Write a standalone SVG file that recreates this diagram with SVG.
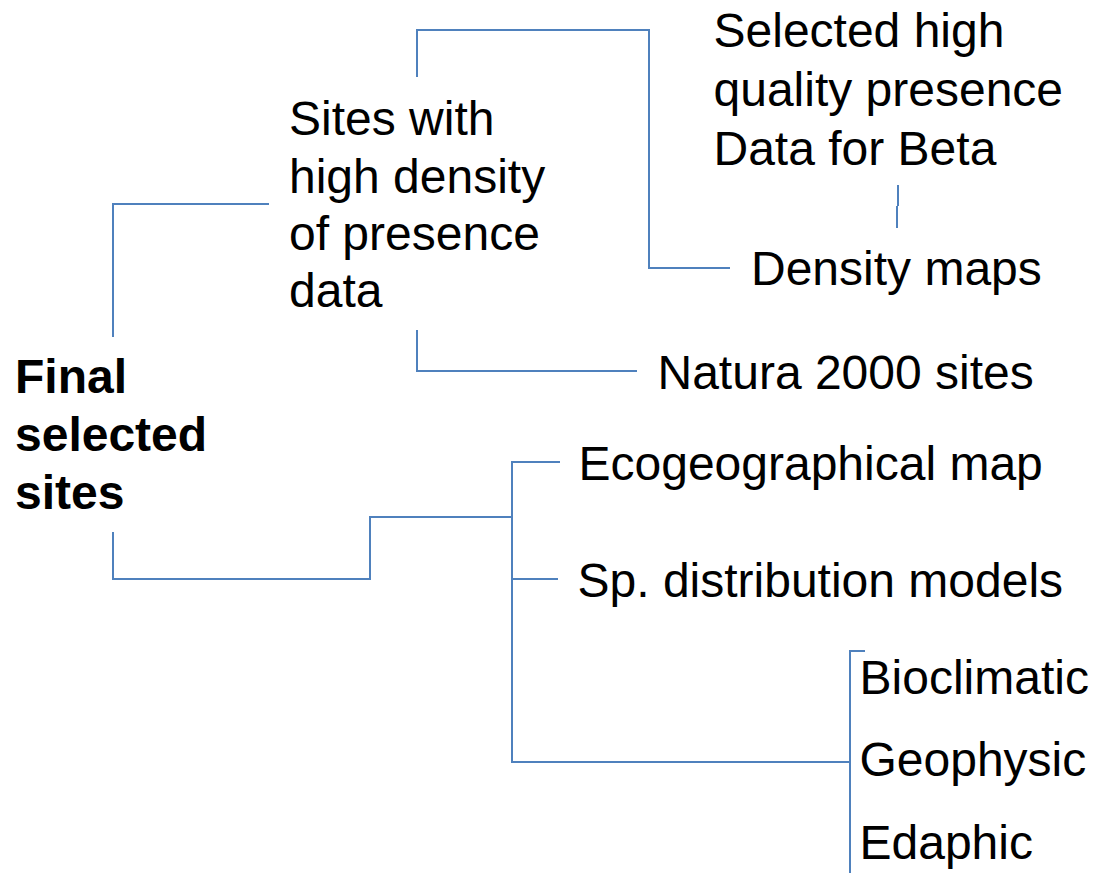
<svg xmlns="http://www.w3.org/2000/svg" width="1099" height="873" viewBox="0 0 1099 873">
<style>
.t{font-family:"Liberation Sans",Arial,sans-serif;font-size:48px;fill:#000}
.b{font-weight:bold}
.c{fill:none;stroke:#4F81BD;stroke-width:2}
</style>
<rect width="1099" height="873" fill="#fff"/>
<g id="connectors">
<path class="c" d="M113,337 V204 H269"/>
<path class="c" d="M113,532 V579 H370 V517 H512"/>
<path class="c" d="M560,462 H512 V579 H558"/>
<path class="c" d="M512,579 V762 H850"/>
<path class="c" d="M865,651 H850 V873"/>
<path class="c" d="M417,77 V30 H649 V268 H730"/>
<path class="c" d="M417,330 V371 H637"/>
<path class="c" d="M898,185 V206 M897,206 V228"/>
</g>
<g id="final"><text class="t b" x="15" y="393">Final</text><text class="t b" x="15" y="451">selected</text><text class="t b" x="15" y="508.5">sites</text></g>
<g id="sites"><text class="t" x="289" y="135">Sites with</text><text class="t" x="289" y="192.5">high density</text><text class="t" x="289" y="250">of presence</text><text class="t" x="289" y="307">data</text></g>
<g id="selected"><text class="t" x="713.5" y="47">Selected high</text><text class="t" x="713.5" y="106">quality presence</text><text class="t" x="713.5" y="164.5">Data for Beta</text></g>
<g id="density"><text class="t" x="751" y="285">Density maps</text></g>
<g id="natura"><text class="t" x="657.5" y="389">Natura 2000 sites</text></g>
<g id="eco"><text class="t" x="578.5" y="479.5">Ecogeographical map</text></g>
<g id="sdm"><text class="t" x="577.5" y="596.5">Sp. distribution models</text></g>
<g id="bioclimatic"><text class="t" x="859.5" y="693.5">Bioclimatic</text></g>
<g id="geophysic"><text class="t" x="859.5" y="775.5">Geophysic</text></g>
<g id="edaphic"><text class="t" x="859.5" y="858.5">Edaphic</text></g>
</svg>
